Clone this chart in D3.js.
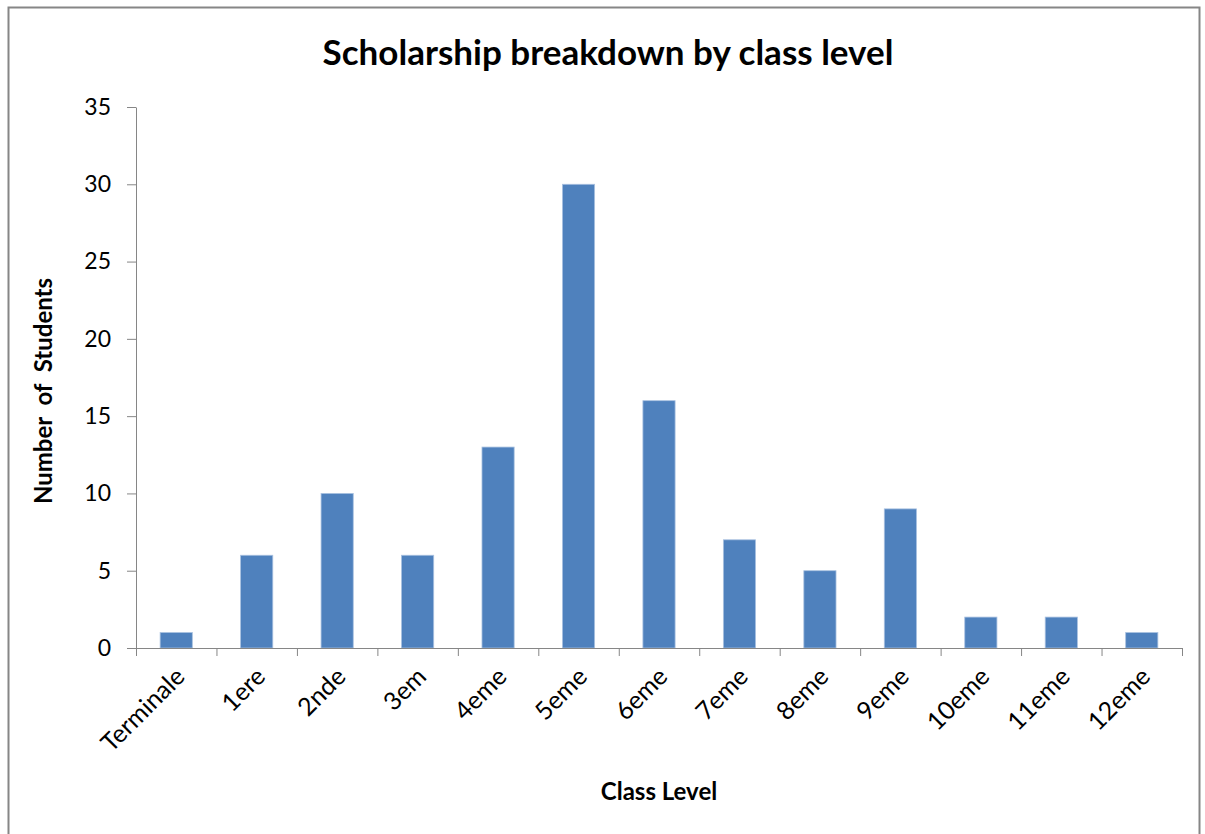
<!DOCTYPE html>
<html>
<head>
<meta charset="utf-8">
<script src="https://cdn.jsdelivr.net/npm/d3@7"></script>
<style>
  html, body { margin: 0; padding: 0; background: #fff; }
  svg text { font-family: Lato, "Open Sans", "Noto Sans", sans-serif; fill: #000; }
</style>
</head>
<body>
<svg id="chart" width="1205" height="834"></svg>
<script>
// data
const categories = ["Terminale", "1ere", "2nde", "3em", "4eme", "5eme", "6eme", "7eme", "8eme", "9eme", "10eme", "11eme", "12eme"];
const students = [1, 6, 10, 6, 13, 30, 16, 7, 5, 9, 2, 2, 1];
const yTicks = [0, 5, 10, 15, 20, 25, 30, 35];

const svg = d3.select("#chart");

// chart frame
svg.append("rect")
    .attr("x", 8.5).attr("y", 7.5)
    .attr("width", 1191).attr("height", 840)
    .attr("fill", "none")
    .attr("stroke", "#868686")
    .attr("stroke-width", 2);

const plot = { left: 136, right: 1182, top: 107, bottom: 648 };

const x = d3.scaleBand()
    .domain(categories)
    .range([plot.left, plot.right])
    .paddingInner(0.6)
    .paddingOuter(0.3);

const y = d3.scaleLinear()
    .domain([0, 35])
    .range([plot.bottom, plot.top]);

// bars
svg.append("g")
    .selectAll("rect")
    .data(students)
    .enter()
    .append("rect")
    .attr("x", (d, i) => x(categories[i]))
    .attr("y", d => y(d))
    .attr("width", x.bandwidth())
    .attr("height", d => y(0) - y(d))
    .attr("fill", "#4F81BD")
    .attr("stroke", "#A9C1E0")
    .attr("stroke-width", 0.8);

// y axis
const yAxis = svg.append("g")
    .attr("transform", `translate(${plot.left},0)`)
    .call(d3.axisLeft(y).tickValues(yTicks).tickSize(9).tickPadding(16).tickSizeOuter(0));
yAxis.select(".domain").attr("stroke", "#868686");
yAxis.selectAll(".tick line").attr("stroke", "#868686");
yAxis.selectAll(".tick text").style("font-size", "23px");

// x axis: ticks on category boundaries, like the original
const xb = d3.scaleLinear().domain([0, categories.length]).range([plot.left, plot.right]);
const xAxis = svg.append("g")
    .attr("transform", `translate(0,${plot.bottom})`)
    .call(d3.axisBottom(xb).tickValues(d3.range(categories.length + 1)).tickSize(8).tickFormat("").tickSizeOuter(0));
xAxis.select(".domain").attr("stroke", "#868686");
xAxis.selectAll(".tick line").attr("stroke", "#868686");

svg.append("g")
    .selectAll("text")
    .data(categories)
    .enter()
    .append("text")
    .attr("transform", d => `translate(${x(d) + x.bandwidth() / 2 + 4},${plot.bottom + 24}) rotate(-45)`)
    .attr("text-anchor", "end")
    .attr("dy", "0.35em")
    .style("font-size", "25px")
    .text(d => d);

// titles
svg.append("text")
    .attr("x", 608).attr("y", 65)
    .attr("text-anchor", "middle")
    .style("font-size", "35px")
    .style("font-weight", "bold")
    .text("Scholarship breakdown by class level");

svg.append("text")
    .attr("transform", "translate(52,391) rotate(-90)")
    .attr("text-anchor", "middle")
    .style("font-size", "24px")
    .style("font-weight", "bold")
    .style("white-space", "pre")
    .text("Number  of  Students");

svg.append("text")
    .attr("x", 659).attr("y", 800)
    .attr("text-anchor", "middle")
    .style("font-size", "24px")
    .style("font-weight", "bold")
    .text("Class Level");
</script>
</body>
</html>
